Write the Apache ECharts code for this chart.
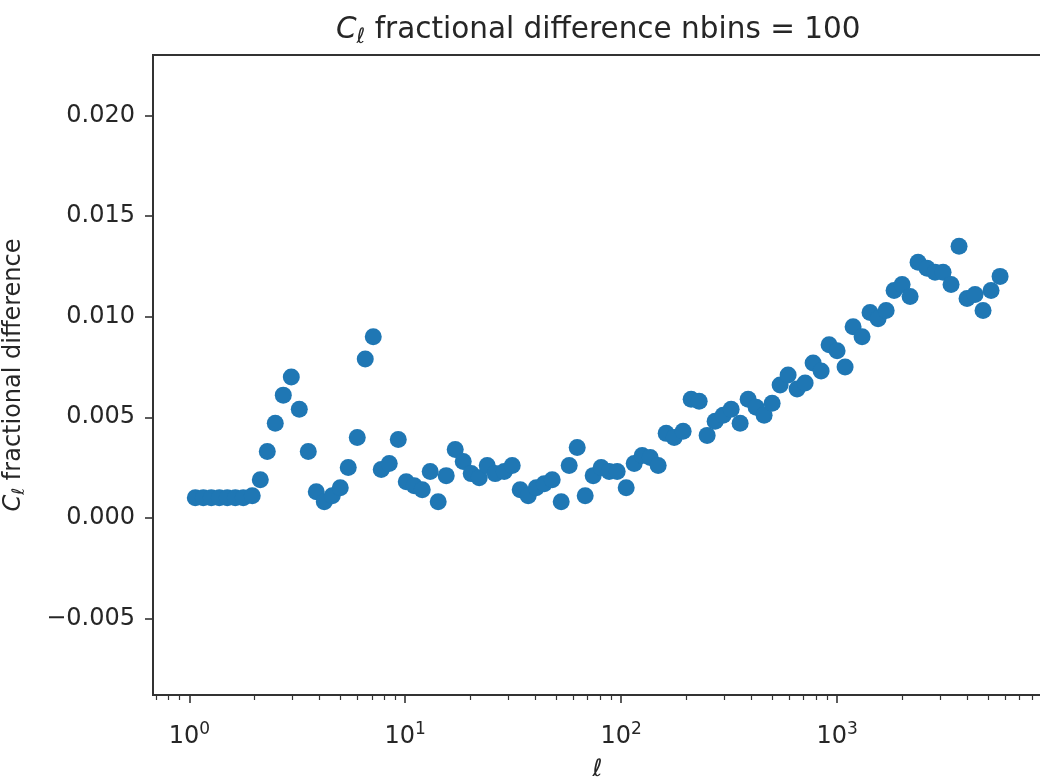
<!DOCTYPE html>
<html>
<head>
<meta charset="utf-8">
<title>Cl fractional difference</title>
<script src="https://cdn.jsdelivr.net/npm/echarts@6/dist/echarts.min.js"></script>
<style>
  html, body { margin: 0; padding: 0; background: #fff; }
  #chart { width: 1040px; height: 779px; }
</style>
</head>
<body>
<div id="chart"></div>
<script>
// multipole l of each bin
var ellValues = [
  1.066, 1.161, 1.264, 1.377, 1.499, 1.633, 1.778, 1.957, 2.132, 2.297,
  2.501, 2.724, 2.967, 3.231, 3.556, 3.873, 4.217, 4.592, 5.002, 5.446,
  5.995, 6.528, 7.110, 7.743, 8.432, 9.283, 10.11, 11.01, 11.99, 13.05,
  14.21, 15.48, 17.04, 18.56, 20.21, 22.01, 23.97, 26.10, 28.73, 31.29,
  34.07, 37.11, 40.42, 44.01, 47.93, 52.76, 57.45, 62.57, 68.13, 74.20,
  80.81, 87.99, 95.83, 105.5, 114.9, 125.1, 136.3, 148.4, 161.6, 176.0,
  193.6, 210.9, 229.7, 250.1, 272.4, 296.7, 323.1, 355.6, 387.3, 421.7,
  459.2, 500.2, 544.6, 593.1, 652.8, 711.0, 774.3, 843.2, 918.3, 1000,
  1089, 1186, 1305, 1421, 1548, 1687, 1836, 2000, 2178, 2371,
  2610, 2842, 3095, 3371, 3671, 3998, 4354, 4742, 5164, 5685
];

// fractional difference of C_l
var fracDiff = [
  0.0010, 0.0010, 0.0010, 0.0010, 0.0010, 0.0010, 0.0010, 0.0011, 0.0019, 0.0033,
  0.0047, 0.0061, 0.0070, 0.0054, 0.0033, 0.0013, 0.0008, 0.0011, 0.0015, 0.0025,
  0.0040, 0.0079, 0.0090, 0.0024, 0.0027, 0.0039, 0.0018, 0.0016, 0.0014, 0.0023,
  0.0008, 0.0021, 0.0034, 0.0028, 0.0022, 0.0020, 0.0026, 0.0022, 0.0023, 0.0026,
  0.0014, 0.0011, 0.0015, 0.0017, 0.0019, 0.0008, 0.0026, 0.0035, 0.0011, 0.0021,
  0.0025, 0.0023, 0.0023, 0.0015, 0.0027, 0.0031, 0.0030, 0.0026, 0.0042, 0.0040,
  0.0043, 0.0059, 0.0058, 0.0041, 0.0048, 0.0051, 0.0054, 0.0047, 0.0059, 0.0055,
  0.0051, 0.0057, 0.0066, 0.0071, 0.0064, 0.0067, 0.0077, 0.0073, 0.0086, 0.0083,
  0.0075, 0.0095, 0.0090, 0.0102, 0.0099, 0.0103, 0.0113, 0.0116, 0.0110, 0.0127,
  0.0124, 0.0122, 0.0122, 0.0116, 0.0135, 0.0109, 0.0111, 0.0103, 0.0113, 0.0120
];

var yTicks = [-0.005, 0.000, 0.005, 0.010, 0.015, 0.020];
var xMajorTicks = [1, 10, 100, 1000];
var xMinorTicks = [
  0.7, 0.8, 0.9,
  2, 3, 4, 5, 6, 7, 8, 9,
  20, 30, 40, 50, 60, 70, 80, 90,
  200, 300, 400, 500, 600, 700, 800, 900,
  2000, 3000, 4000, 5000, 6000, 7000, 8000
];

var points = ellValues.map(function (l, i) { return [l, fracDiff[i]]; });

var font = 'DejaVu Sans';
var ink = '#262626';
var xMin = 0.679, xMax = 8890;

var myChart = echarts.init(document.getElementById('chart'));

var option = {
  animation: false,
  backgroundColor: '#fff',
  title: {
    text: '{i|C}{sub|ℓ} fractional difference nbins = 100',
    left: 331,
    top: 8,
    textStyle: {
      fontFamily: font,
      fontSize: 29.5,
      fontWeight: 'normal',
      color: ink,
      rich: {
        i: { fontFamily: font, fontSize: 29.5, fontStyle: 'italic', color: ink, lineHeight: 35 },
        sub: { fontFamily: font, fontSize: 21, color: ink, lineHeight: 21, padding: [14, 0, 0, 0], verticalAlign: 'bottom' }
      }
    }
  },
  grid: {
    left: 153,
    top: 55,
    right: -2,
    bottom: 84,
    outerBoundsMode: 'none',
    containLabel: false,
    show: true,
    borderColor: '#333',
    borderWidth: 2,
    backgroundColor: 'transparent'
  },
  xAxis: [
    {
      type: 'log',
      logBase: 10,
      min: xMin,
      max: xMax,
      position: 'bottom',
      name: 'ℓ',
      nameLocation: 'middle',
      nameGap: 60,
      nameTextStyle: { fontFamily: font, fontSize: 24, fontStyle: 'italic', color: ink },
      axisLine: { show: false, onZero: false },
      splitLine: { show: false },
      axisTick: {
        show: true,
        length: 8,
        customValues: xMajorTicks,
        lineStyle: { color: '#333', width: 1.6 }
      },
      axisLabel: {
        customValues: xMajorTicks,
        margin: 30,
        fontFamily: font,
        fontSize: 24,
        color: ink,
        formatter: function (v) {
          return '10{sup|' + Math.round(Math.log10(v)) + '}';
        },
        rich: {
          sup: { fontFamily: font, fontSize: 17, color: ink, lineHeight: 17, padding: [0, 0, 14, 0] }
        }
      }
    },
    {
      type: 'log',
      logBase: 10,
      min: xMin,
      max: xMax,
      position: 'bottom',
      offset: 0,
      axisLine: { show: false, onZero: false },
      splitLine: { show: false },
      axisLabel: { show: false },
      axisTick: {
        show: true,
        length: 5,
        customValues: xMinorTicks,
        lineStyle: { color: '#333', width: 1.2 }
      }
    }
  ],
  yAxis: {
    type: 'value',
    min: -0.0088,
    max: 0.0230,
    name: '{i|C}{sub|ℓ} fractional difference',
    nameLocation: 'middle',
    nameRotate: 90,
    nameGap: 125,
    nameTextStyle: {
      fontFamily: font,
      fontSize: 24,
      color: ink,
      rich: {
        i: { fontFamily: font, fontSize: 24, fontStyle: 'italic', color: ink, lineHeight: 28 },
        sub: { fontFamily: font, fontSize: 17, color: ink, lineHeight: 17, padding: [11, 0, 0, 0], verticalAlign: 'bottom' }
      }
    },
    axisLine: { show: false, onZero: false },
    splitLine: { show: false },
    axisTick: {
      show: true,
      length: 8,
      customValues: yTicks,
      lineStyle: { color: '#333', width: 1.6 }
    },
    axisLabel: {
      customValues: yTicks,
      margin: 18,
      fontFamily: font,
      fontSize: 24,
      color: ink,
      formatter: function (v) {
        return v.toFixed(3).replace('-', '\u2212');
      }
    }
  },
  series: [
    {
      type: 'scatter',
      xAxisIndex: 0,
      data: points,
      symbol: 'circle',
      symbolSize: 17,
      itemStyle: { color: '#1f77b4', opacity: 1 }
    }
  ]
};

myChart.setOption(option);
</script>
</body>
</html>
